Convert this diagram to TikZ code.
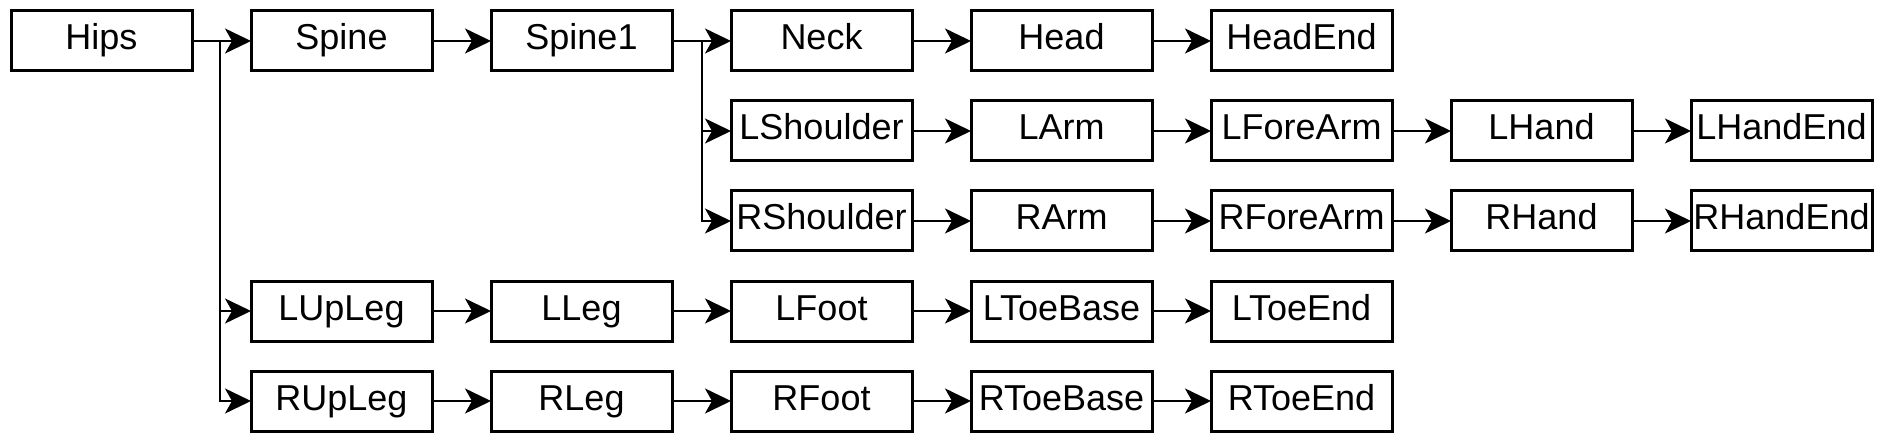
\documentclass[tikz,border=0pt]{standalone}
\usepackage{fontspec}
\setmainfont{Liberation Sans}
\usepackage{tikz}
\usetikzlibrary{
    arrows.meta,
    positioning
}
\tikzset{
    % Bone box - plain rectangle
    bone/.style={
        rectangle,
        draw=black,
        line width=1.5pt,
        minimum width=90.5pt,
        minimum height=30pt,
        inner sep=1pt,
        outer sep=0pt,
        text height=13pt,
        text depth=4pt,
        font=\fontsize{18}{22}\selectfont,
    },
    % Arrow from parent to child bone
    arrow/.style={
        -{Stealth[length=13pt, width=12.5pt, inset=3.5pt]},
        line width=1pt,
        draw=black,
    },
}

\begin{document}
\begin{tikzpicture}[node distance=15pt and 29.5pt]
    \useasboundingbox (0,0) rectangle (941.5pt,-221.5pt);
    % spine chain
    \node (hips) [bone] at (50.75pt,-20.5pt) {Hips};
    \node (spine) [bone, right=of hips] {Spine};
    \node (spine1) [bone, right=of spine] {Spine1};
    \node (neck) [bone, right=of spine1] {Neck};
    \node (head) [bone, right=of neck] {Head};
    \node (headend) [bone, right=of head] {HeadEnd};
    % left arm
    \node (lshoulder) [bone, below=of neck] {LShoulder};
    \node (larm) [bone, right=of lshoulder] {LArm};
    \node (lforearm) [bone, right=of larm] {LForeArm};
    \node (lhand) [bone, right=of lforearm] {LHand};
    \node (lhandend) [bone, right=of lhand] {LHandEnd};
    % right arm
    \node (rshoulder) [bone, below=of lshoulder] {RShoulder};
    \node (rarm) [bone, right=of rshoulder] {RArm};
    \node (rforearm) [bone, right=of rarm] {RForeArm};
    \node (rhand) [bone, right=of rforearm] {RHand};
    \node (rhandend) [bone, right=of rhand] {RHandEnd};
    % left leg
    \node (lupleg) [bone, below=105pt of spine] {LUpLeg};
    \node (lleg) [bone, right=of lupleg] {LLeg};
    \node (lfoot) [bone, right=of lleg] {LFoot};
    \node (ltoebase) [bone, right=of lfoot] {LToeBase};
    \node (ltoeend) [bone, right=of ltoebase] {LToeEnd};
    % right leg
    \node (rupleg) [bone, below=of lupleg] {RUpLeg};
    \node (rleg) [bone, right=of rupleg] {RLeg};
    \node (rfoot) [bone, right=of rleg] {RFoot};
    \node (rtoebase) [bone, right=of rfoot] {RToeBase};
    \node (rtoeend) [bone, right=of rtoebase] {RToeEnd};

    \draw [arrow] (hips) -- (spine);
    \draw [arrow] (hips.east) -- ++(14pt,0) |- (lupleg.west);
    \draw [arrow] (hips.east) -- ++(14pt,0) |- (rupleg.west);
    \draw [arrow] (spine) -- (spine1);
    \draw [arrow] (spine1) -- (neck);
    \draw [arrow] (spine1.east) -- ++(15pt,0) |- (lshoulder.west);
    \draw [arrow] (spine1.east) -- ++(15pt,0) |- (rshoulder.west);
    \draw [arrow] (neck) -- (head);
    \draw [arrow] (head) -- (headend);
    \draw [arrow] (lshoulder) -- (larm);
    \draw [arrow] (larm) -- (lforearm);
    \draw [arrow] (lforearm) -- (lhand);
    \draw [arrow] (lhand) -- (lhandend);
    \draw [arrow] (rshoulder) -- (rarm);
    \draw [arrow] (rarm) -- (rforearm);
    \draw [arrow] (rforearm) -- (rhand);
    \draw [arrow] (rhand) -- (rhandend);
    \draw [arrow] (lupleg) -- (lleg);
    \draw [arrow] (lleg) -- (lfoot);
    \draw [arrow] (lfoot) -- (ltoebase);
    \draw [arrow] (ltoebase) -- (ltoeend);
    \draw [arrow] (rupleg) -- (rleg);
    \draw [arrow] (rleg) -- (rfoot);
    \draw [arrow] (rfoot) -- (rtoebase);
    \draw [arrow] (rtoebase) -- (rtoeend);
\end{tikzpicture}
\end{document}
